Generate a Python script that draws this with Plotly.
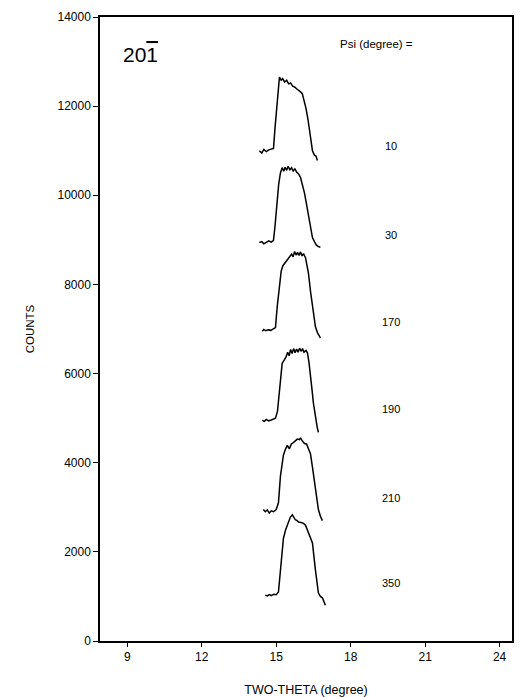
import plotly.graph_objects as go

# Two-theta (degree) and counts for each Psi scan
x_psi10 = [14.32, 14.42, 14.5, 14.6, 14.7, 14.8, 14.89, 14.95, 15.02, 15.09, 15.13, 15.2, 15.26, 15.34, 15.42, 15.5, 15.58, 15.66, 15.74, 15.82, 15.9, 15.98, 16.05, 16.12, 16.2, 16.28, 16.36, 16.46, 16.54, 16.6, 16.66]
y_psi10 = [11000, 10950, 11030, 10980, 11020, 11040, 11050, 11500, 12000, 12300, 12650, 12580, 12620, 12540, 12580, 12500, 12520, 12450, 12430, 12390, 12360, 12320, 12280, 12150, 11950, 11700, 11400, 11000, 10900, 10880, 10780]

x_psi30 = [14.32, 14.42, 14.5, 14.6, 14.7, 14.8, 14.89, 14.95, 15.02, 15.1, 15.17, 15.24, 15.3, 15.36, 15.42, 15.48, 15.55, 15.62, 15.68, 15.75, 15.82, 15.9, 15.98, 16.06, 16.14, 16.22, 16.3, 16.38, 16.46, 16.55, 16.62, 16.7, 16.78]
y_psi30 = [8940, 8960, 8910, 8950, 8980, 8950, 8990, 9300, 9800, 10250, 10500, 10620, 10540, 10630, 10560, 10650, 10570, 10620, 10540, 10600, 10520, 10480, 10400, 10250, 10050, 9800, 9550, 9300, 9050, 8950, 8880, 8850, 8830]

x_psi170 = [14.44, 14.5, 14.58, 14.68, 14.78, 14.88, 14.97, 15.04, 15.12, 15.2, 15.27, 15.36, 15.45, 15.54, 15.62, 15.68, 15.74, 15.8, 15.86, 15.92, 15.98, 16.04, 16.1, 16.18, 16.24, 16.3, 16.38, 16.46, 16.52, 16.58, 16.66, 16.78]
y_psi170 = [6950, 6990, 6960, 6980, 6970, 7000, 7030, 7500, 7950, 8300, 8420, 8480, 8560, 8610, 8680, 8620, 8740, 8660, 8720, 8650, 8730, 8640, 8690, 8600, 8450, 8250, 7850, 7500, 7250, 7050, 6920, 6800]

x_psi190 = [14.44, 14.52, 14.6, 14.7, 14.8, 14.9, 14.97, 15.05, 15.15, 15.24, 15.32, 15.4, 15.46, 15.52, 15.58, 15.64, 15.7, 15.76, 15.82, 15.88, 15.94, 16.0, 16.06, 16.12, 16.2, 16.26, 16.32, 16.38, 16.44, 16.5, 16.58, 16.65, 16.7]
y_psi190 = [4950, 4930, 4970, 4940, 4960, 4990, 5000, 5150, 5800, 6230, 6300, 6380, 6480, 6400, 6540, 6450, 6560, 6470, 6550, 6480, 6570, 6500, 6560, 6480, 6520, 6460, 6250, 6000, 5650, 5330, 5000, 4800, 4680]

x_psi210 = [14.48, 14.56, 14.64, 14.72, 14.8, 14.89, 15.0, 15.09, 15.17, 15.29, 15.37, 15.45, 15.53, 15.61, 15.69, 15.77, 15.85, 15.94, 15.98, 16.06, 16.14, 16.22, 16.3, 16.38, 16.46, 16.54, 16.62, 16.7, 16.78, 16.86]
y_psi210 = [2950, 2900, 2940, 2870, 2920, 2900, 2950, 3100, 3700, 4170, 4300, 4390, 4310, 4420, 4450, 4480, 4530, 4520, 4560, 4480, 4430, 4420, 4300, 4200, 3900, 3600, 3250, 2950, 2800, 2700]

x_psi350 = [14.56, 14.64, 14.72, 14.8, 14.9, 15.0, 15.09, 15.17, 15.25, 15.29, 15.37, 15.45, 15.52, 15.57, 15.65, 15.71, 15.77, 15.84, 15.9, 16.0, 16.1, 16.18, 16.3, 16.46, 16.58, 16.7, 16.78, 16.86, 16.98]
y_psi350 = [1030, 1010, 1040, 1020, 1050, 1040, 1100, 1600, 2040, 2300, 2480, 2600, 2700, 2780, 2830, 2760, 2720, 2700, 2670, 2660, 2640, 2600, 2440, 2200, 1590, 1075, 1000, 970, 800]

psi_labels = ["10", "30", "170", "190", "210", "350"]
psi_label_y = [11110, 9117, 7146, 5197, 3203, 1299]
psi_label_x = 19.62

x_ticks = [9, 12, 15, 18, 21, 24]
y_ticks = [0, 2000, 4000, 6000, 8000, 10000, 12000, 14000]
y_tick_text = [str(v) for v in y_ticks]

series = [(x_psi10, y_psi10), (x_psi30, y_psi30), (x_psi170, y_psi170),
          (x_psi190, y_psi190), (x_psi210, y_psi210), (x_psi350, y_psi350)]

fig = go.Figure()
for (xs, ys), name in zip(series, psi_labels):
    fig.add_trace(go.Scatter(x=xs, y=ys, mode="lines", name=name,
                             line=dict(color="black", width=1.5),
                             showlegend=False, hoverinfo="x+y"))

font = dict(family="Liberation Sans, Arial, sans-serif", color="black")

for lab, ly in zip(psi_labels, psi_label_y):
    fig.add_annotation(x=psi_label_x, y=ly, text=lab, showarrow=False,
                       font=dict(size=11, **font))

fig.add_annotation(x=19.04, y=13395, text="Psi (degree) =", showarrow=False,
                   font=dict(size=11.5, **font))
fig.add_annotation(x=9.55, y=13150,
                   text="20<span style='text-decoration:overline'>1</span>",
                   showarrow=False, font=dict(size=21, **font))

fig.update_layout(
    width=524, height=697,
    margin=dict(l=100, r=12, t=17, b=56, autoexpand=False),
    paper_bgcolor="white", plot_bgcolor="white",
    font=dict(size=12, **font),
)
fig.update_xaxes(range=[7.9, 24.5], tickvals=x_ticks, ticks="outside", ticklen=4,
                 showgrid=False, zeroline=False, showline=True, linecolor="black",
                 linewidth=1.5, mirror=True, tickcolor="black", automargin=False,
                 tickfont=dict(size=12, **font),
                 title=dict(text="TWO-THETA (degree)", font=dict(size=12.5, **font), standoff=22))
fig.update_yaxes(range=[0, 14000], tickvals=y_ticks, ticktext=y_tick_text,
                 ticks="outside", ticklen=5,
                 showgrid=False, zeroline=False, showline=True, linecolor="black",
                 linewidth=1.5, mirror=True, tickcolor="black", automargin=False,
                 tickfont=dict(size=12, **font),
                 title=dict(text="COUNTS", font=dict(size=11.5, **font), standoff=20))

fig.write_html("out.html")
